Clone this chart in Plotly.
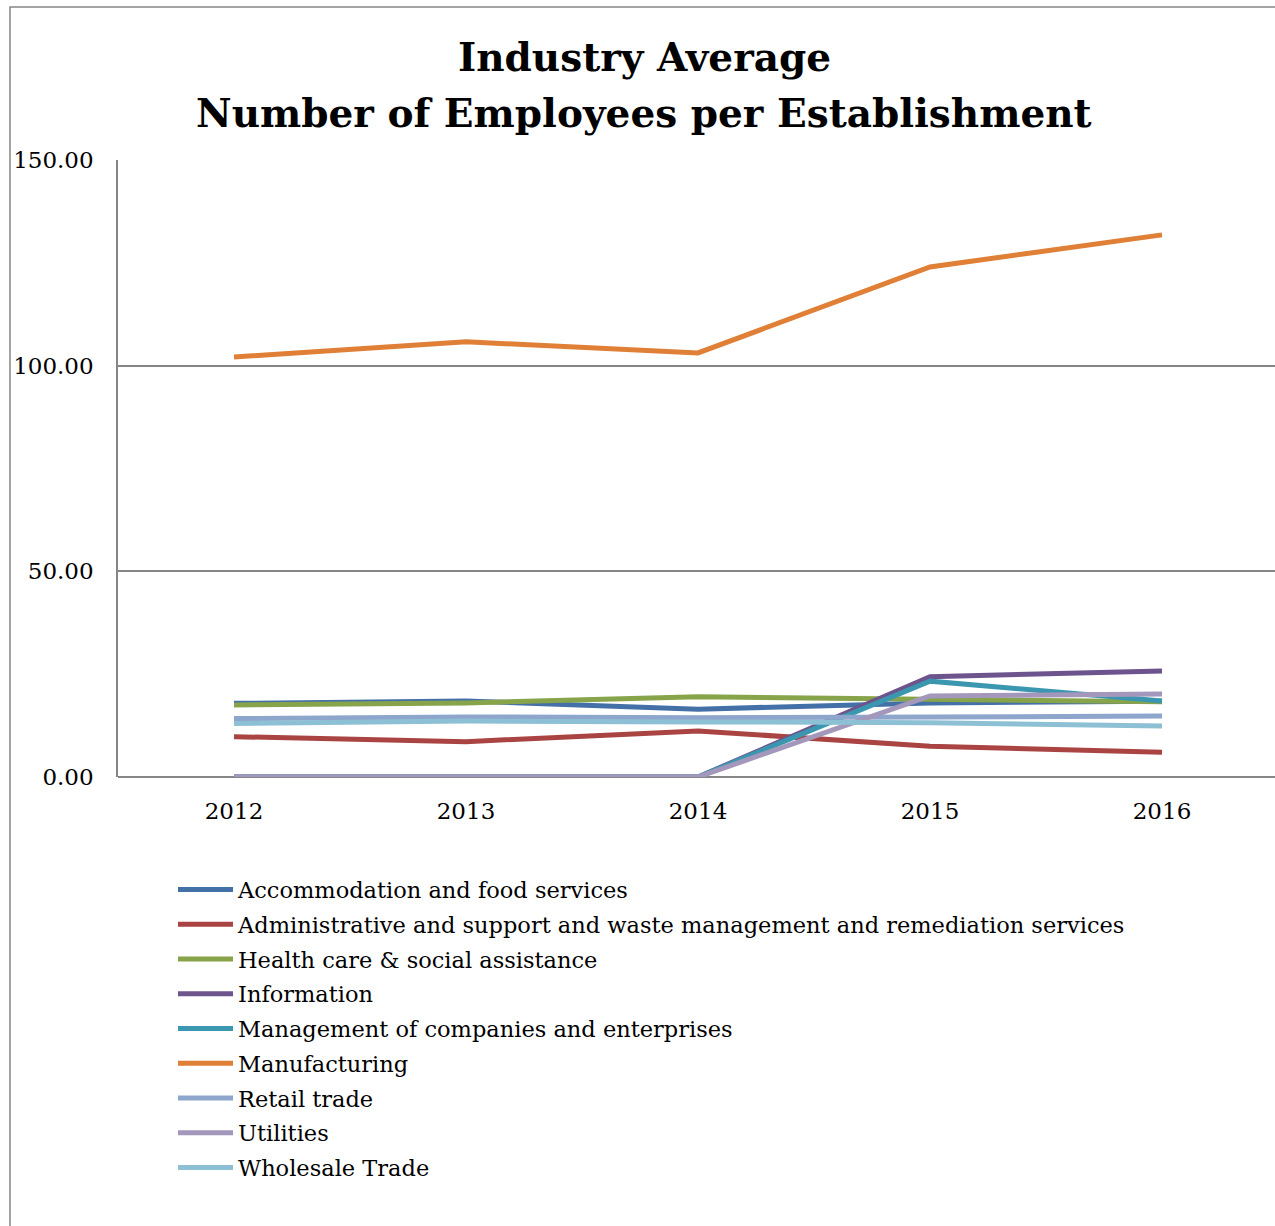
import plotly.graph_objects as go

years = [2012, 2013, 2014, 2015, 2016]
accommodation = [17.9, 18.5, 16.5, 18.0, 18.4]
administrative = [9.8, 8.6, 11.2, 7.5, 6.0]
health_care = [17.5, 18.0, 19.5, 18.8, 18.3]
information = [0.0, 0.0, 0.0, 24.4, 25.8]
management = [0.0, 0.0, 0.0, 23.3, 18.5]
manufacturing = [102.1, 105.8, 103.1, 124.0, 131.8]
retail = [14.2, 14.6, 14.4, 14.6, 14.8]
utilities = [0.0, 0.0, 0.0, 19.7, 20.2]
wholesale = [13.0, 13.6, 13.4, 13.2, 12.4]

series = [
    ("Accommodation and food services", accommodation, "#4470A8"),
    ("Administrative and support and waste management and remediation services", administrative, "#A94442"),
    ("Health care & social assistance", health_care, "#87A44A"),
    ("Information", information, "#6D548D"),
    ("Management of companies and enterprises", management, "#3B97AF"),
    ("Manufacturing", manufacturing, "#E07F36"),
    ("Retail trade", retail, "#8EA5CC"),
    ("Utilities", utilities, "#A497BC"),
    ("Wholesale Trade", wholesale, "#8DC0D4"),
]

title_lines = ["Industry Average", "Number of Employees per Establishment"]

FONT = "DejaVu Serif"
PW = 1157
PH = 617

fig = go.Figure()
for i, (name, vals, col) in enumerate(series):
    fig.add_trace(go.Scatter(x=years, y=vals, name=name, mode="lines",
                             legendgroup="g%d" % i,
                             line=dict(color=col, width=5)))

fig.update_layout(
    width=1275, height=1226,
    margin=dict(l=118, r=0, t=160, b=449),
    paper_bgcolor="white", plot_bgcolor="white",
    font=dict(family=FONT, color="black"),
    showlegend=True,
    legend=dict(x=(173 - 118) / PW, xanchor="left", y=-0.148, yanchor="top",
                font=dict(family=FONT, size=22.5, color="black"),
                itemwidth=55, bgcolor="rgba(0,0,0,0)", traceorder="grouped",
                tracegroupgap=2.5),
    xaxis=dict(range=[2011.5, 2011.5 + PW / 232], tickvals=years,
               ticktext=[str(y) for y in years], showgrid=False,
               zeroline=False, showline=False, ticks="",
               tickfont=dict(family=FONT, size=23), ticklabelstandoff=18),
    yaxis=dict(range=[0, 150], tickvals=[0, 50, 100, 150],
               ticktext=["0.00", "50.00", "100.00", "150.00"],
               showgrid=True, gridcolor="#868686", gridwidth=1.5,
               zeroline=True, zerolinecolor="#868686", zerolinewidth=1.5,
               showline=True, linecolor="#868686", linewidth=1.5,
               ticks="", tickfont=dict(family=FONT, size=23),
               ticklabelstandoff=18),
)

for txt, py in zip(title_lines, [57, 113]):
    fig.add_annotation(text="<b>%s</b>" % txt, xref="paper", yref="paper",
                       x=(644 - 118) / PW, y=(777 - py) / PH,
                       xanchor="center", yanchor="middle", showarrow=False,
                       font=dict(family=FONT, size=39, color="black"))

fig.add_shape(type="rect", xref="paper", yref="paper",
              x0=(10 - 118) / PW, x1=1.05,
              y0=-0.8, y1=(777 - 7) / PH,
              line=dict(color="#868686", width=1.5), fillcolor="rgba(0,0,0,0)",
              layer="below")

fig.write_html("out.html")
